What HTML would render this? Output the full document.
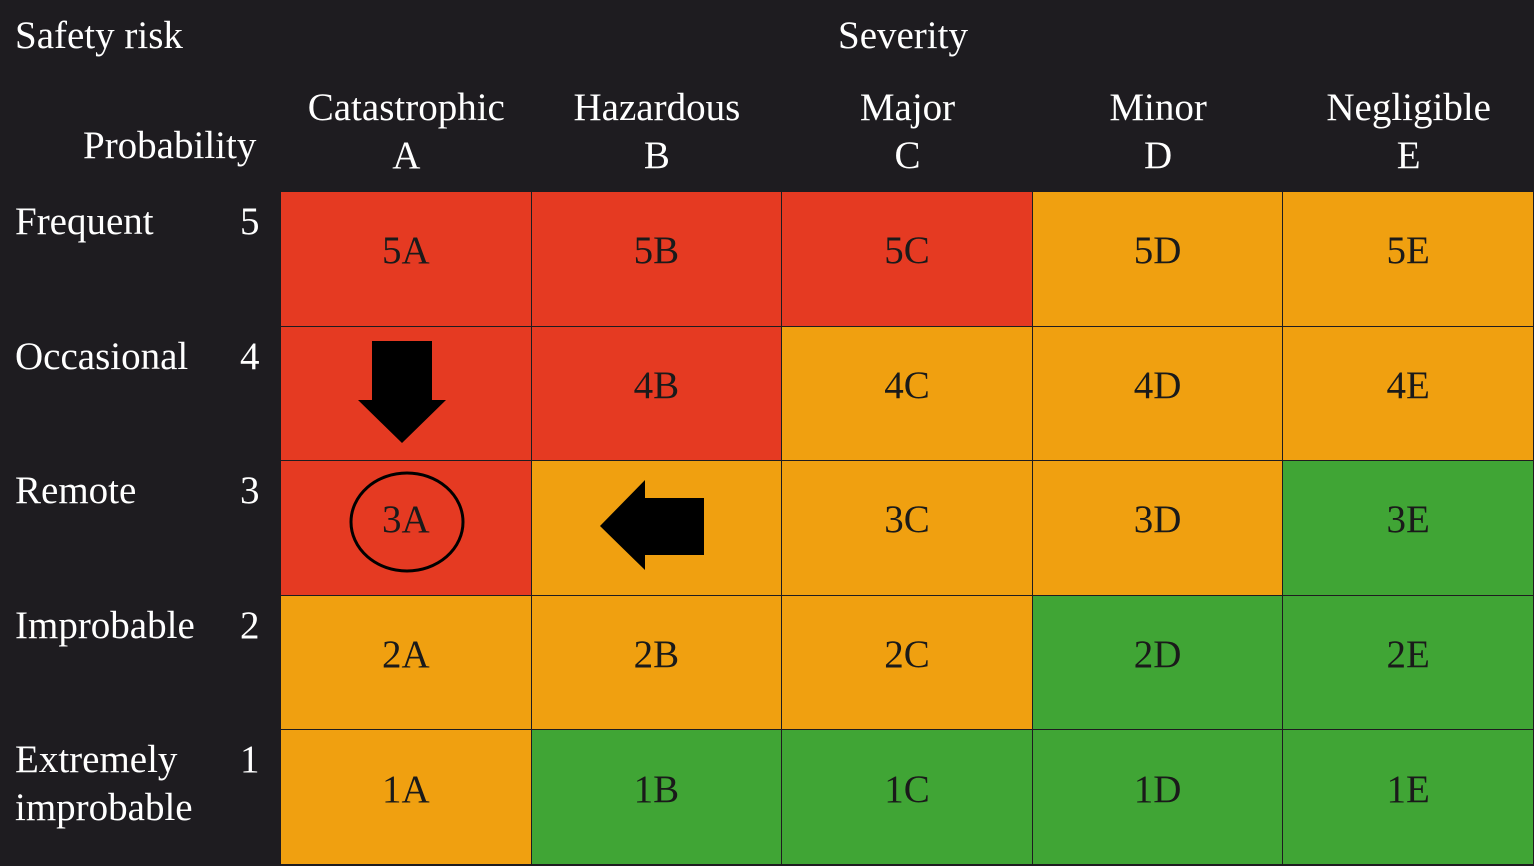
<!DOCTYPE html>
<html><head><meta charset="utf-8"><style>
body{margin:0;width:1534px;height:865px;background:#1e1c20;position:relative;overflow:hidden;font-family:"Liberation Serif",serif;}
.t{position:absolute;color:#fff;font-size:39px;line-height:48px;white-space:nowrap}
.c{position:absolute;box-sizing:border-box;display:flex;align-items:center;justify-content:center;font-size:39px;color:#1a1a1a;border-right:2px solid #1e1c20;border-bottom:2px solid #1e1c20;padding-bottom:16px}
</style></head><body>
<div class="t" style="left:15px;top:12px">Safety risk</div>
<div class="t" style="left:838px;top:12px">Severity</div>
<div class="t" style="left:83px;top:122px">Probability</div>
<div id="grid"></div>
<svg width="1534" height="865" style="position:absolute;left:0;top:0">
<polygon points="372,341 432,341 432,400 446,400 402,443 358,400 372,400" fill="#000"/>
<polygon points="704,498 704,555 645,555 645,570 600,526 645,480 645,498" fill="#000"/>
<ellipse cx="407" cy="522" rx="56" ry="49" fill="none" stroke="#000" stroke-width="3"/>
</svg>
<script>
const severities=["Catastrophic","Hazardous","Major","Minor","Negligible"];
const sevCodes=["A","B","C","D","E"];
const probabilities=["Frequent","Occasional","Remote","Improbable","Extremely improbable"];
const probCodes=[5,4,3,2,1];
const levels=[["R","R","R","O","O"],["R","R","O","O","O"],["R","O","O","O","G"],["O","O","O","G","G"],["O","G","G","G","G"]];
const colors={R:"#e53a22",O:"#f0a010",G:"#40a535"};
const x0=281,y0=192,cw=250.6,ch=134.6;
const g=document.getElementById('grid');
severities.forEach((s,i)=>{
  const d=document.createElement('div');d.className='t';
  
  
  d.style.left=(x0+i*cw)+'px';d.style.width=cw+'px';d.style.top='84px';d.style.textAlign='center';
  d.innerHTML=s+'<br>'+sevCodes[i];g.appendChild(d);
});
probabilities.forEach((p,j)=>{
  const d=document.createElement('div');d.className='t';
  
  
  d.style.left='15px';d.style.top=(y0+j*ch+6)+'px';d.style.whiteSpace='normal';d.style.width='200px';
  d.innerHTML=p==="Extremely improbable"?"Extremely<br>improbable":p;g.appendChild(d);
  const n=document.createElement('div');n.className='t';
  
  
  n.style.left='240px';n.style.top=(y0+j*ch+6)+'px';n.textContent=probCodes[j];g.appendChild(n);
  sevCodes.forEach((s,i)=>{
    const c=document.createElement('div');c.className='c';
    
    
    c.style.left=(x0+i*cw)+'px';c.style.top=(y0+j*ch)+'px';
    c.style.width=(cw+1)+'px';c.style.height=(ch+1)+'px';
    c.style.background=colors[levels[j][i]];
    if(!(j==1&&i==0)&&!(j==2&&i==1))c.textContent=probCodes[j]+s;
    g.appendChild(c);
  });
});
</script>
</body></html>
